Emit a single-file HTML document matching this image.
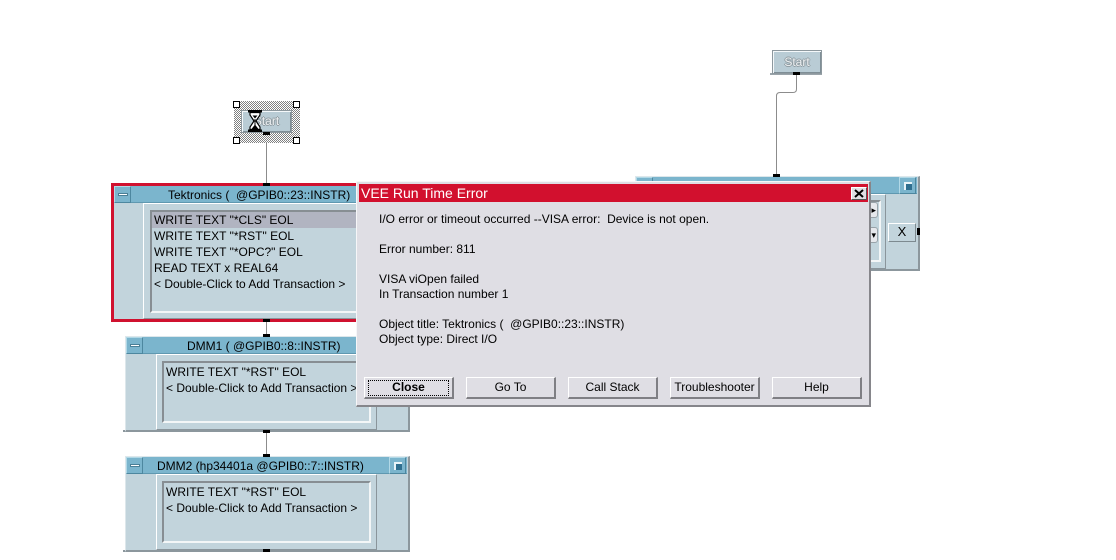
<!DOCTYPE html>
<html><head><meta charset="utf-8">
<style>
*{margin:0;padding:0;box-sizing:border-box}
body{width:1116px;height:560px;background:#fff;position:relative;overflow:hidden;font-family:"Liberation Sans",Arial,sans-serif;font-size:12px;color:#000}
.a{position:absolute}
.frame{position:absolute;background:#c2d4dc;border-left:1px solid #dde7eb;border-top:1px solid #dde7eb;border-right:2px solid #8c979d;border-bottom:2px solid #8c979d}
.tb{position:absolute;background:#7bb5cd;border-bottom:1px solid #5f98b0;height:17px}
.tt{position:absolute;white-space:nowrap;line-height:16px;font-size:12px}
.mb{position:absolute;width:17px;height:17px;background:#7bb5cd;border-left:1px solid #b2d9e7;border-top:1px solid #b2d9e7;border-right:1px solid #4d879f;border-bottom:1px solid #4d879f}
.mb i{position:absolute;left:3px;top:6px;width:10px;height:3px;background:#fff;border:1px solid #4a7f96}
.rb{position:absolute;width:17px;height:17px;background:#7bb5cd;border-left:1px solid #b2d9e7;border-top:1px solid #b2d9e7;border-right:1px solid #4d879f;border-bottom:1px solid #4d879f}
.rb i{position:absolute;left:4px;top:4px;width:8px;height:8px;background:#2f6f8f;border-left:2px solid #e8f4f8;border-top:2px solid #e8f4f8}
.cp{position:absolute;background:#c2d4dc;border-left:1px solid #fff;border-top:1px solid #fff;border-right:1px solid #8a959b;border-bottom:1px solid #8a959b}
.lb{position:absolute;background:#c2d4dc;border-left:2px solid #878e93;border-top:2px solid #878e93;border-right:2px solid #f3f6f7;border-bottom:2px solid #f3f6f7}
.ln{position:absolute;white-space:nowrap;line-height:16px;font-size:12px}
.pin{position:absolute;width:7px;height:3px;background:#000}
.wire{position:absolute;width:1px;background:#8c8c8c}
.btn{position:absolute;top:377px;width:90px;height:22px;background:#dfdee4;border-left:1px solid #fff;border-top:1px solid #fff;border-right:2px solid #7f7f84;border-bottom:2px solid #7f7f84;text-align:center;line-height:19px;font-size:12px}
.start{position:absolute;background:#b9ccd5;border:1px solid #8d989e;box-shadow:inset 1px 1px 0 #f4f8fa,inset -1px -1px 0 #7f8e96;text-align:center;font-size:12px;color:#eef1f3;text-shadow:1px 0 0 #8f9ba1,-1px 0 0 #8f9ba1,0 1px 0 #8f9ba1,0 -1px 0 #8f9ba1}
.hd{position:absolute;width:7px;height:7px;background:#fff;border:1px solid #000}
</style></head><body>

<!-- wires -->
<div class="wire" style="left:266px;top:135px;height:48px"></div>
<div class="wire" style="left:266px;top:322px;height:14px"></div>
<div class="wire" style="left:266px;top:432px;height:24px"></div>
<svg class="a" style="left:0;top:0" width="1116" height="560">
<path d="M796.5 75 V89 Q796.5 92.5 793 92.5 H780 Q776.5 92.5 776.5 96 V175" fill="none" stroke="#8c8c8c" stroke-width="1"/>
</svg>

<!-- left Start (selected) -->
<div class="a" style="left:234px;top:101px;width:66px;height:42px;background-image:repeating-conic-gradient(#808080 0% 25%,#fff 0% 50%);background-size:2px 2px"></div>
<div class="start" style="left:241px;top:110px;width:51px;height:23px;line-height:21px">Start</div>
<svg class="a" style="left:248px;top:110px" width="14" height="22" viewBox="0 0 14 22">
<rect x="0" y="0" width="14" height="2.5" fill="#000"/>
<rect x="0" y="19.5" width="14" height="2.5" fill="#000"/>
<path d="M2 2.5 H12 V5 L8 11 L12 17 V19.5 H2 V17 L6 11 L2 5 Z" fill="#fff" stroke="#000" stroke-width="1.2"/>
<path d="M3.5 19 H10.5 L7 14.5 Z" fill="#000"/>
<path d="M4.5 5.5 H9.5 L7 8.5 Z" fill="#000"/>
<line x1="7" y1="9" x2="7" y2="15" stroke="#000" stroke-width="1"/>
</svg>
<div class="hd" style="left:233px;top:101px"></div>
<div class="hd" style="left:293px;top:101px"></div>
<div class="hd" style="left:233px;top:137px"></div>
<div class="hd" style="left:293px;top:137px"></div>
<div class="pin" style="left:263px;top:132px"></div>

<!-- right Start -->
<div class="a" style="left:770px;top:73px;width:52px;height:2px;background:#9aa4aa"></div>
<div class="start" style="left:772px;top:50px;width:50px;height:24px;line-height:22px">Start</div>
<div class="pin" style="left:793px;top:72px"></div>

<!-- Tektronics -->
<div class="a" style="left:111px;top:183px;width:313px;height:139px;background:#d0112f"></div>
<div class="a" style="left:114px;top:186px;width:307px;height:133px;background:#c2d4dc"></div>
<div class="tb" style="left:114px;top:186px;width:307px"></div>
<div class="mb" style="left:114px;top:186px"><i></i></div>
<div class="tt" style="left:168px;top:187px">Tektronics (&nbsp; @GPIB0::23::INSTR)</div>
<div class="cp" style="left:143px;top:203px;width:270px;height:116px"></div>
<div class="lb" style="left:150px;top:210px;width:257px;height:103px"></div>
<div class="a" style="left:152px;top:212px;width:253px;height:16px;background:#b1b4c1"></div>
<div class="ln" style="left:154px;top:212px">WRITE TEXT "*CLS" EOL</div>
<div class="ln" style="left:154px;top:228px">WRITE TEXT "*RST" EOL</div>
<div class="ln" style="left:154px;top:244px">WRITE TEXT "*OPC?" EOL</div>
<div class="ln" style="left:154px;top:260px">READ TEXT x REAL64</div>
<div class="ln" style="left:154px;top:276px">&lt; Double-Click to Add Transaction &gt;</div>
<div class="pin" style="left:263px;top:183px"></div>
<div class="pin" style="left:263px;top:319px"></div>

<!-- DMM1 -->
<div class="a" style="left:123px;top:430px;width:287px;height:2px;background:#8c979d"></div>
<div class="frame" style="left:125px;top:336px;width:285px;height:96px"></div>
<div class="tb" style="left:126px;top:337px;width:281px"></div>
<div class="mb" style="left:126px;top:337px"><i></i></div>
<div class="tt" style="left:187px;top:338px">DMM1 ( @GPIB0::8::INSTR)</div>
<div class="rb" style="left:389px;top:337px"><i></i></div>
<div class="cp" style="left:156px;top:354px;width:221px;height:76px"></div>
<div class="lb" style="left:162px;top:361px;width:209px;height:62px"></div>
<div class="ln" style="left:166px;top:364px">WRITE TEXT "*RST" EOL</div>
<div class="ln" style="left:166px;top:380px">&lt; Double-Click to Add Transaction &gt;</div>
<div class="pin" style="left:263px;top:334px"></div>
<div class="pin" style="left:263px;top:430px"></div>

<!-- DMM2 -->
<div class="a" style="left:123px;top:550px;width:287px;height:2px;background:#8c979d"></div>
<div class="frame" style="left:125px;top:456px;width:285px;height:96px"></div>
<div class="tb" style="left:126px;top:457px;width:281px"></div>
<div class="mb" style="left:126px;top:457px"><i></i></div>
<div class="tt" style="left:157px;top:458px">DMM2 (hp34401a @GPIB0::7::INSTR)</div>
<div class="rb" style="left:389px;top:457px"><i></i></div>
<div class="cp" style="left:156px;top:474px;width:221px;height:76px"></div>
<div class="lb" style="left:162px;top:481px;width:209px;height:62px"></div>
<div class="ln" style="left:166px;top:484px">WRITE TEXT "*RST" EOL</div>
<div class="ln" style="left:166px;top:500px">&lt; Double-Click to Add Transaction &gt;</div>
<div class="pin" style="left:263px;top:454px"></div>
<div class="pin" style="left:263px;top:549px"></div>

<!-- right box -->
<div class="frame" style="left:635px;top:176px;width:285px;height:95px"></div>
<div class="tb" style="left:636px;top:177px;width:281px"></div>
<div class="mb" style="left:636px;top:177px"><i></i></div>
<div class="rb" style="left:899px;top:177px"><i></i></div>
<div class="cp" style="left:654px;top:194px;width:232px;height:75px"></div>
<div class="lb" style="left:660px;top:200px;width:221px;height:62px"></div>
<div class="a" style="left:864px;top:202px;width:14px;height:16px;background:#e6e8ec;border:1px solid #98a2a8;border-radius:3px;font-size:9px;line-height:14px;text-align:right;padding-right:1px">&#9656;</div>
<div class="a" style="left:864px;top:227px;width:14px;height:16px;background:#e6e8ec;border:1px solid #98a2a8;border-radius:3px;font-size:9px;line-height:14px;text-align:right;padding-right:1px">&#9662;</div>
<div class="a" style="left:888px;top:223px;width:28px;height:19px;background:#c2d4dc;border-left:1px solid #fff;border-top:1px solid #fff;border-right:1px solid #7d8a90;border-bottom:1px solid #7d8a90;text-align:center;line-height:16px;font-size:13px">X</div>
<div class="a" style="left:917px;top:228px;width:3px;height:7px;background:#000"></div>
<div class="pin" style="left:773px;top:174px"></div>

<!-- dialog -->
<div class="a" style="left:356px;top:181px;width:515px;height:226px;background:#dfdee4;border-left:1px solid #f6f6f8;border-top:1px solid #f6f6f8;border-right:2px solid #86868b;border-bottom:2px solid #86868b"></div>
<div class="a" style="left:359px;top:184px;width:509px;height:18px;background:#d2102e;color:#fff;font-size:14px;line-height:18px;padding-left:2px;white-space:nowrap">VEE Run Time Error</div>
<div class="a" style="left:851px;top:187px;width:16px;height:13px;background:#dfdee4;border-left:1px solid #fff;border-top:1px solid #fff;border-right:1px solid #555;border-bottom:1px solid #555"></div>
<svg class="a" style="left:854px;top:189px" width="10" height="9"><path d="M1 1 L9 8 M9 1 L1 8" stroke="#000" stroke-width="2"/></svg>
<div class="a" style="left:379px;top:212px;line-height:15px;font-size:12px;white-space:nowrap">I/O error or timeout occurred --VISA error:&nbsp; Device is not open.<br><br>Error number: 811<br><br>VISA viOpen failed<br>In Transaction number 1<br><br>Object title: Tektronics (&nbsp; @GPIB0::23::INSTR)<br>Object type: Direct I/O</div>

<div class="btn" style="left:364px;font-weight:bold"><span class="a" style="left:3px;top:2px;right:3px;bottom:1px;border:1px dotted #000"></span>Close</div>
<div class="btn" style="left:466px">Go To</div>
<div class="btn" style="left:568px">Call Stack</div>
<div class="btn" style="left:670px">Troubleshooter</div>
<div class="btn" style="left:772px">Help</div>

</body></html>
